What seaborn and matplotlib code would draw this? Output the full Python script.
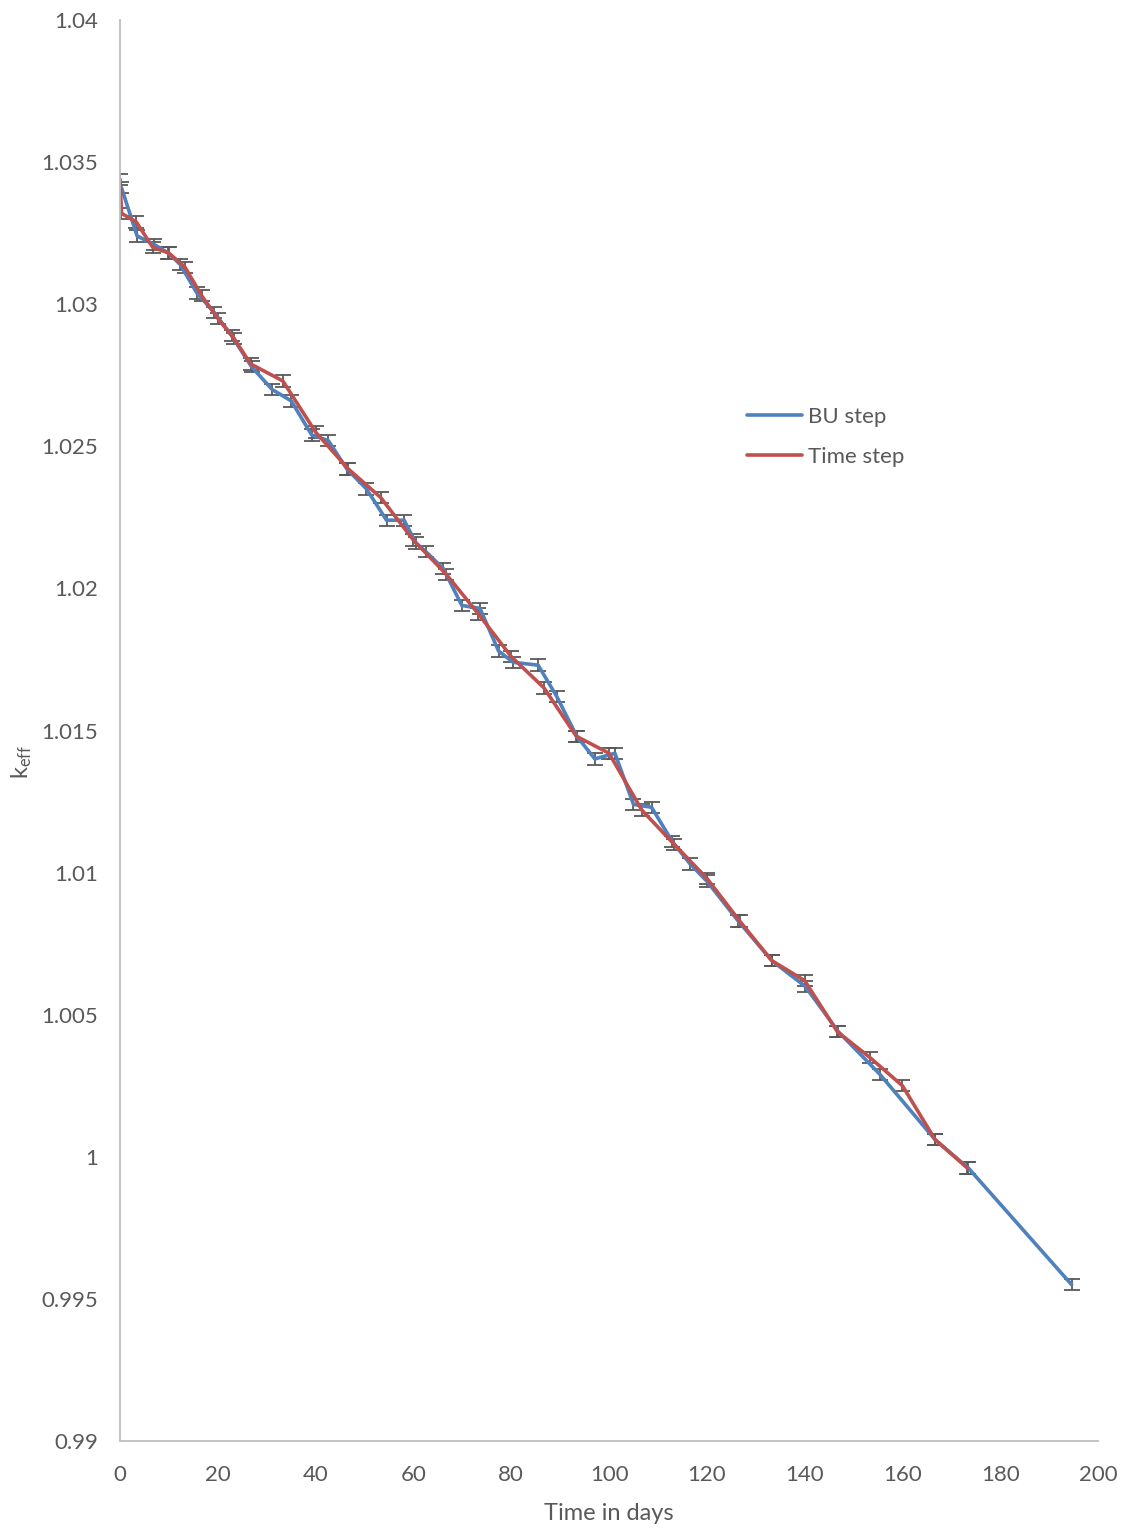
import numpy as np
import pandas as pd
import matplotlib
matplotlib.use('Agg')
import matplotlib.pyplot as plt
import seaborn as sns

# BU step series (days, k_eff)
bu_days = [0.3, 3.5, 7.0, 9.9, 12.3, 15.7, 19.3, 22.8, 26.9, 31.1, 35.0, 39.2, 42.6,
           46.4, 50.4, 54.5, 58.1, 60.5, 62.5, 66.1, 69.9, 73.6, 77.4, 80.4, 85.5,
           89.3, 93.4, 97.1, 101.2, 105.0, 108.7, 112.9, 116.6, 120.0, 126.4,
           133.3, 140.1, 146.9, 155.4, 166.7, 173.5, 194.6]
bu_keff = [1.0341, 1.0324, 1.0321, 1.0318, 1.0314, 1.0304, 1.0297, 1.0289, 1.0278,
           1.0270, 1.0266, 1.0254, 1.0252, 1.0242, 1.0235, 1.0224, 1.0224, 1.0216,
           1.0213, 1.0207, 1.0194, 1.0193, 1.0178, 1.0174, 1.0173, 1.0162, 1.0148,
           1.0140, 1.0142, 1.0124, 1.0123, 1.0111, 1.0103, 1.0097, 1.0083, 1.0069,
           1.0060, 1.0044, 1.0029, 1.0006, 0.9996, 0.9955]

# Time step series
ts_days = [0.0, 0.3, 3.3, 6.7, 10.0, 13.3, 16.7, 20.0, 23.3, 26.7, 33.3, 40.0, 46.7,
           53.3, 60.0, 66.7, 73.3, 80.0, 86.7, 93.3, 100.0, 106.7, 113.3, 120.0,
           126.7, 133.3, 140.0, 146.7, 153.3, 160.0, 166.7, 173.3]
ts_keff = [1.0344, 1.0332, 1.0329, 1.0320, 1.0318, 1.0313, 1.0303, 1.0295, 1.0288,
           1.0279, 1.0273, 1.0255, 1.0242, 1.0232, 1.0217, 1.0205, 1.0191, 1.0176,
           1.0165, 1.0148, 1.0142, 1.0122, 1.0110, 1.0098, 1.0083, 1.0069, 1.0062,
           1.0044, 1.0035, 1.0025, 1.0006, 0.9996]

err = 0.0002  # statistical uncertainty on k_eff

df = pd.concat([
    pd.DataFrame({'days': bu_days, 'keff': bu_keff, 'series': 'BU step'}),
    pd.DataFrame({'days': ts_days, 'keff': ts_keff, 'series': 'Time step'}),
], ignore_index=True)

sns.set_style("white")
plt.rcParams['font.family'] = ['Lato', 'DejaVu Sans']
plt.rcParams['mathtext.fontset'] = 'custom'
plt.rcParams['mathtext.rm'] = 'Lato'
plt.rcParams['mathtext.it'] = 'Lato'

grey = '#595959'
colors = {'BU step': '#4F81BD', 'Time step': '#C0504D'}

fig = plt.figure(figsize=(11.27, 15.31), dpi=100)
ax = fig.add_axes([0.1065, 0.0588, 0.8678, 0.9281])

# error bars first, lines on top
for name, d in df.groupby('series'):
    ax.errorbar(d['days'], d['keff'], yerr=err, fmt='none', ecolor=grey,
                elinewidth=1.3, capsize=6, capthick=1.3, zorder=1)

sns.lineplot(data=df, x='days', y='keff', hue='series', palette=colors,
             estimator=None, sort=False, linewidth=2.6, ax=ax, zorder=2)

ax.set_xlim(0, 200)
ax.set_ylim(0.99, 1.04)
ax.set_xticks(np.arange(0, 201, 20))
ax.set_yticks(np.arange(0.99, 1.0401, 0.005))
ax.set_yticklabels(['0.99', '0.995', '1', '1.005', '1.01', '1.015', '1.02',
                    '1.025', '1.03', '1.035', '1.04'])
ax.tick_params(colors=grey, labelsize=16, length=0)
ax.tick_params(axis='x', pad=17)
ax.tick_params(axis='y', pad=16)

for s in ['top', 'right']:
    ax.spines[s].set_visible(False)
for s in ['left', 'bottom']:
    ax.spines[s].set_color('#BFBFBF')
    ax.spines[s].set_linewidth(1.3)

ax.set_xlabel('Time in days', color=grey, fontsize=17)
ax.set_ylabel(r'k$_{\mathrm{eff}}$', color=grey, fontsize=17)
ax.xaxis.set_label_coords(0.5, -0.044)
ax.yaxis.set_label_coords(-0.088, 0.478)

leg = ax.legend(loc='upper left', bbox_to_anchor=(0.621, 0.742), frameon=False,
                fontsize=16, handlelength=2.45, handletextpad=0.27,
                labelspacing=0.9)
for t in leg.get_texts():
    t.set_color(grey)

fig.savefig('out.png', dpi=100)
